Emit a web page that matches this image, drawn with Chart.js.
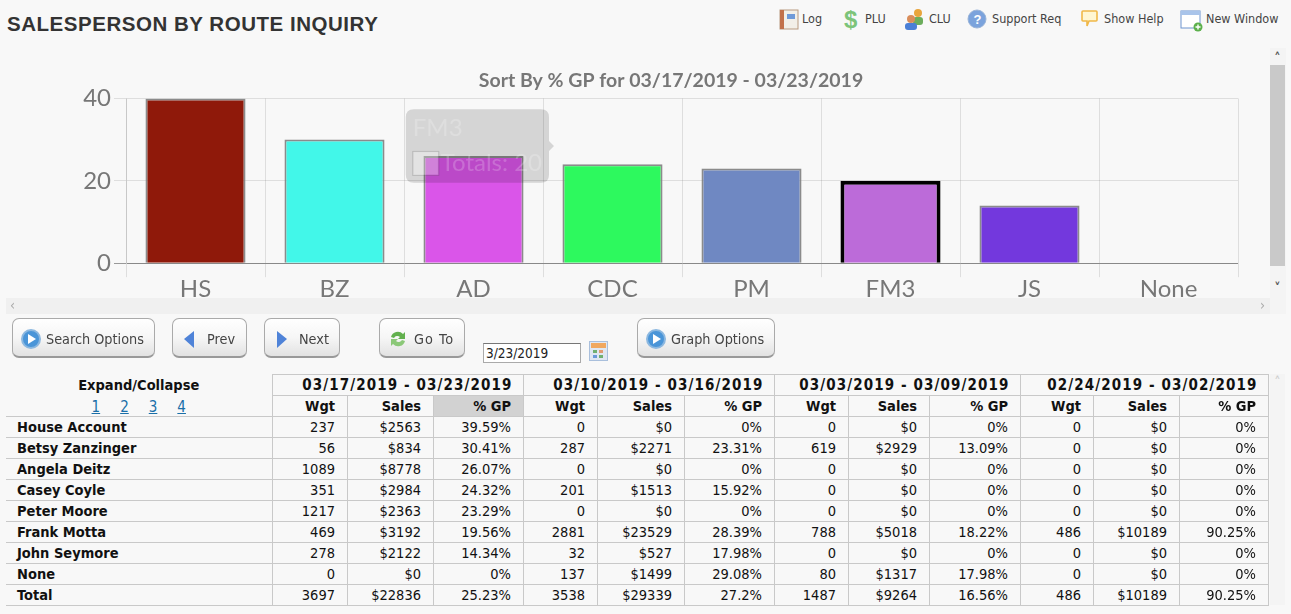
<!DOCTYPE html>
<html>
<head>
<meta charset="utf-8">
<title>Salesperson By Route Inquiry</title>
<script src="https://cdn.jsdelivr.net/npm/chart.js@4"></script>
<style>
body { margin:0; background:#f8f8f8; width:1291px; height:614px; overflow:hidden; position:relative; font-family:"DejaVu Sans Condensed","DejaVu Sans",sans-serif; font-size:14px; color:#111; }
h1 { position:absolute; left:7px; top:12px; margin:0; font:bold 20.5px "Liberation Sans",Arial,sans-serif; color:#333; letter-spacing:.53px; white-space:nowrap; }
.tool { position:absolute; top:8px; height:22px; line-height:21px; font-size:12.5px; color:#444; white-space:nowrap; }
.tool svg { position:absolute; left:0; top:0; }
#chartbox { position:absolute; left:6px; top:48px; width:1264px; height:250px; overflow:hidden; }
#chartwrap { position:absolute; left:0; top:0; width:1264px; height:254px; }
.sb { position:absolute; background:#f0f0f0; color:#555; font-size:11px; text-align:center; }
.btn { position:absolute; top:318px; height:40px; line-height:40px; box-sizing:border-box; border:1px solid #aaa; border-bottom:2px solid #999; border-radius:7px; background:linear-gradient(#fff 0%,#f6f6f6 50%,#e2e2e2 100%); color:#444; font-size:14.3px; white-space:nowrap; }
.btn svg { position:absolute; top:9px; left:7px; }
.btn span { position:absolute; top:0; }
#dt { position:absolute; left:483px; top:343px; width:98px; height:20px; box-sizing:border-box; border:1px solid #aaa; border-top-color:#777; background:#fff; font:13.5px "DejaVu Sans Condensed"; padding:0 2px; line-height:18px; color:#222; }
table { position:absolute; left:6px; top:374px; width:1262px; border-collapse:collapse; table-layout:fixed; }
td,th { height:21px; box-sizing:border-box; padding:0 11.5px 0 0; border:1px solid #c9c9c9; text-align:right; white-space:nowrap; font-size:14.5px; line-height:19px; overflow:hidden; }
th { font-weight:bold; }
td.nm { text-align:left; font-weight:bold; padding-left:11px; border-left:0; }
th.ex { border:0; border-bottom:1px solid #c9c9c9; text-align:center; padding:0; }
th.ex.top { border-bottom:0; }
th.wk { font-size:15px; letter-spacing:1.1px; padding-right:10px; }
th.sel { background:#d2d2d2; }
a { color:#1a6fa8; font-weight:normal; margin:0 10px; font-size:15px; position:relative; top:2px; }
</style>
</head>
<body>
<h1>SALESPERSON BY ROUTE INQUIRY</h1>

<div class="tool" style="left:779px;padding-left:23px"><svg width="20" height="22"><rect x="1" y="2" width="18" height="19" fill="#f2efe8" stroke="#b89a80"/><rect x="1" y="2" width="4" height="19" fill="#c2714a"/><rect x="8" y="6" width="8" height="5" fill="#6f9ad8"/></svg>Log</div>
<div class="tool" style="left:843px;padding-left:22px"><svg width="18" height="24"><text x="1" y="20" font-size="24" font-weight="bold" font-family="Liberation Sans" fill="#7cc47a">$</text></svg>PLU</div>
<div class="tool" style="left:903px;padding-left:26px"><svg width="22" height="24"><circle cx="15" cy="5" r="4" fill="#e8a53c"/><rect x="10" y="9" width="10" height="8" rx="3" fill="#6cad5c"/><circle cx="8" cy="11" r="4" fill="#d98d5a"/><rect x="2" y="15" width="12" height="7" rx="3" fill="#4a7fd6"/></svg>CLU</div>
<div class="tool" style="left:967px;padding-left:25px"><svg width="20" height="24"><circle cx="10" cy="11" r="9" fill="#7ba3dc" stroke="#9ab4d8"/><text x="6.5" y="16" font-size="13" font-weight="bold" font-family="Liberation Sans" fill="#fff">?</text></svg>Support Req</div>
<div class="tool" style="left:1080px;padding-left:24px"><svg width="20" height="24"><path d="M3 3h13a1 1 0 0 1 1 1v8a1 1 0 0 1-1 1H9l-2 5v-5H3a1 1 0 0 1-1-1V4a1 1 0 0 1 1-1z" fill="#fff6d2" stroke="#f0b848" stroke-width="1.6"/></svg>Show Help</div>
<div class="tool" style="left:1180px;padding-left:26px"><svg width="23" height="24"><rect x="1" y="3" width="19" height="17" fill="#fff" stroke="#6c94cf"/><rect x="1" y="3" width="19" height="4" fill="#a9c4ea"/><circle cx="18" cy="19" r="4.5" fill="#5cb04c"/><path d="M18 16.5v5M15.5 19h5" stroke="#fff" stroke-width="1.4"/></svg>New Window</div>

<div id="chartbox"><div id="chartwrap"><canvas id="grafico_gp"></canvas></div></div>
<div class="sb" style="left:1270px;top:48px;width:16px;height:266px;background:#f4f4f4"></div>
<div class="sb" style="left:1270px;top:65px;width:15px;height:201px;background:#c9c9c9"></div>
<div class="sb" style="left:1270px;top:50px;width:15px;background:none;font-size:14px;font-weight:bold">&#708;</div>
<div class="sb" style="left:1270px;top:280px;width:15px;background:none;font-size:14px;font-weight:bold">&#709;</div>
<div class="sb" style="left:6px;top:298px;width:1264px;height:16px;color:#aaa;line-height:15px;font-size:14px"><span style="position:absolute;left:4px">&#8249;</span><span style="position:absolute;right:5px">&#8250;</span></div>

<div class="btn" style="left:12px;width:143px"><svg width="22" height="22"><circle cx="11" cy="11" r="9" fill="#4a95d8" stroke="#8cb8e0" stroke-width="2"/><path d="M8 6l8 5-8 5z" fill="#fff"/></svg><span style="left:33px">Search Options</span></div>
<div class="btn" style="left:172px;width:75px"><svg width="22" height="22"><path d="M14 3v17L4 11z" fill="#4f83d8"/></svg><span style="left:34px">Prev</span></div>
<div class="btn" style="left:264px;width:76px"><svg width="22" height="22"><path d="M5 3v17l10-9z" fill="#4f83d8"/></svg><span style="left:34px">Next</span></div>
<div class="btn" style="left:379px;width:86px"><svg width="22" height="22"><path d="M4 9a7 7 0 0 1 12-3l2-2v7h-7l2-2a4 4 0 0 0-6 1z" fill="#62b04e"/><path d="M18 13a7 7 0 0 1-12 3l-2 2v-7h7l-2 2a4 4 0 0 0 6-1z" fill="#8bc878"/></svg><span style="left:34px;letter-spacing:1px">Go To</span></div>
<div id="dt">3/23/2019</div>
<svg style="position:absolute;left:589px;top:341px" width="20" height="20"><rect x=".5" y=".5" width="18" height="19" fill="#dfe7f2" stroke="#a9bfdc"/><rect x="2" y="2" width="15" height="5" fill="#f0a860"/><rect x="4" y="9" width="4" height="3" fill="#70b070"/><rect x="10" y="9" width="4" height="3" fill="#e09a70"/><rect x="4" y="14" width="4" height="3" fill="#6a9ad8"/><rect x="10" y="14" width="4" height="3" fill="#70b070"/></svg>
<div class="btn" style="left:637px;width:138px"><svg width="22" height="22"><circle cx="11" cy="11" r="9" fill="#4a95d8" stroke="#8cb8e0" stroke-width="2"/><path d="M8 6l8 5-8 5z" fill="#fff"/></svg><span style="left:33px">Graph Options</span></div>

<table id="tabella"></table>
<div class="sb" style="left:1270px;top:374px;width:15px;height:231px;background:#f4f4f4;color:#ccc;font-size:14px">&#708;</div>

<script>
// dati del grafico
var sigle = ['HS', 'BZ', 'AD', 'CDC', 'PM', 'FM3', 'JS', 'None'];
var totali = [40, 30, 26, 24, 23, 20, 14, 0];
var colori = ['#8f190a', '#42f7e9', '#da55e9', '#2df95e', '#6f88c2', '#bc6bd9', '#7338dd', '#999999'];
var tickY = [0, 20, 40];

// dati della tabella
var settimane = ['03/17/2019 - 03/23/2019', '03/10/2019 - 03/16/2019', '03/03/2019 - 03/09/2019', '02/24/2019 - 03/02/2019'];
var nomi = ['House Account', 'Betsy Zanzinger', 'Angela Deitz', 'Casey Coyle', 'Peter Moore', 'Frank Motta', 'John Seymore', 'None', 'Total'];
var wgt1 = [237, 56, 1089, 351, 1217, 469, 278, 0, 3697];
var sales1 = [2563, 834, 8778, 2984, 2363, 3192, 2122, 0, 22836];
var gp1 = [39.59, 30.41, 26.07, 24.32, 23.29, 19.56, 14.34, 0, 25.23];
var wgt2 = [0, 287, 0, 201, 0, 2881, 32, 137, 3538];
var sales2 = [0, 2271, 0, 1513, 0, 23529, 527, 1499, 29339];
var gp2 = [0, 23.31, 0, 15.92, 0, 28.39, 17.98, 29.08, 27.2];
var wgt3 = [0, 619, 0, 0, 0, 788, 0, 80, 1487];
var sales3 = [0, 2929, 0, 0, 0, 5018, 0, 1317, 9264];
var gp3 = [0, 13.09, 0, 0, 0, 18.22, 0, 17.98, 16.56];
var wgt4 = [0, 0, 0, 0, 0, 486, 0, 0, 486];
var sales4 = [0, 0, 0, 0, 0, 10189, 0, 0, 10189];
var gp4 = [0, 0, 0, 0, 0, 90.25, 0, 0, 90.25];

function creaTabella() {
	var larghezze = [266, 75, 86, 90, 74, 87, 90, 74, 81, 91, 73, 86, 89];
	var wgt = [wgt1, wgt2, wgt3, wgt4];
	var sales = [sales1, sales2, sales3, sales4];
	var gp = [gp1, gp2, gp3, gp4];
	var html = '<colgroup>';
	larghezze.forEach(function(l) { html += '<col style="width:' + l + 'px">'; });
	html += '</colgroup><tr><th class="ex top">Expand/Collapse</th>';
	settimane.forEach(function(s) { html += '<th colspan="3" class="wk">' + s + '</th>'; });
	html += '</tr><tr><th class="ex"><a href="#">1</a><a href="#">2</a><a href="#">3</a><a href="#">4</a></th>';
	settimane.forEach(function(s, k) {
		html += '<th>Wgt</th><th>Sales</th><th' + (k == 0 ? ' class="sel"' : '') + '>% GP</th>';
	});
	html += '</tr>';
	nomi.forEach(function(nome, r) {
		html += '<tr><td class="nm">' + nome + '</td>';
		for (var k = 0; k < 4; k++) {
			html += '<td>' + wgt[k][r] + '</td><td>$' + sales[k][r] + '</td><td>' + gp[k][r] + '%</td>';
		}
		html += '</tr>';
	});
	document.getElementById('tabella').innerHTML = html;
}

// il tooltip "fantasma" resta fermo a meta' animazione
Chart.Tooltip.positioners.fantasma = function() {
	return { x: 548, y: 98 };
};

// il titolo e' centrato piu' a destra del box di layout
var spostaTitolo = {
	id: 'spostaTitolo',
	afterLayout: function(chart) {
		chart.titleBlock.left = 98;
	}
};

var ctx = document.getElementById('grafico_gp').getContext('2d');
var grafico = new Chart(ctx, {
	type: 'bar',
	plugins: [spostaTitolo],
	data: {
		labels: sigle,
		datasets: [{
			label: 'Totals',
			data: totali,
			backgroundColor: colori,
			borderColor: 'rgba(120,120,120,0.85)',
			borderWidth: 2,
			hoverBackgroundColor: colori,
			hoverBorderColor: '#000',
			hoverBorderWidth: 4
		}]
	},
	options: {
		responsive: true,
		maintainAspectRatio: false,
		animation: false,
		layout: { padding: { left: 77, right: 32, top: 0, bottom: 0 } },
		plugins: {
			legend: { display: false },
			title: {
				display: true,
				text: 'Sort By % GP for 03/17/2019 - 03/23/2019',
				color: '#777',
				font: { family: 'Lato', size: 19.5, weight: 'bold' },
				padding: { top: 21, bottom: 6 }
			},
			tooltip: {
				position: 'fantasma',
				xAlign: 'right',
				yAlign: 'center',
				backgroundColor: 'rgba(0,0,0,0.14)',
				titleColor: 'rgba(255,255,255,0.2)',
				bodyColor: 'rgba(255,255,255,0.2)',
				titleFont: { family: 'Lato', size: 24, weight: 'normal' },
				bodyFont: { family: 'Lato', size: 24 },
				cornerRadius: 8,
				padding: { x: 7, y: 5 },
				caretPadding: 0,
				boxWidth: 26,
				boxHeight: 24,
				multiKeyBackground: 'rgba(255,255,255,0.2)',
				callbacks: {
					labelColor: function() {
						return { borderColor: 'rgba(0,0,0,0.15)', backgroundColor: 'rgba(255,255,255,0.15)' };
					}
				}
			}
		},
		scales: {
			x: {
				grid: { color: 'rgba(0,0,0,0.1)', tickLength: 14, offset: true },
				border: { color: 'rgba(0,0,0,0.1)' },
				ticks: { color: '#777', font: { family: 'Lato', size: 24 }, padding: -2, maxRotation: 0 }
			},
			y: {
				min: 0,
				max: 40,
				afterBuildTicks: function(axis) {
					axis.ticks = tickY.map(function(v) { return { value: v }; });
				},
				afterFit: function(axis) {
					axis.width = 43;
				},
				grid: {
					tickLength: 12,
					color: function(c) { return c.tick.value === 0 ? '#999' : 'rgba(0,0,0,0.1)'; }
				},
				border: { color: 'rgba(0,0,0,0.1)' },
				ticks: { color: '#777', font: { family: 'Lato', size: 24 }, padding: 3 }
			}
		}
	}
});

creaTabella();

var attivo = [{ datasetIndex: 0, index: 5 }];
grafico.setActiveElements(attivo);
grafico.tooltip.setActiveElements(attivo, { x: 0, y: 0 });
grafico.render();
</script>
</body>
</html>
